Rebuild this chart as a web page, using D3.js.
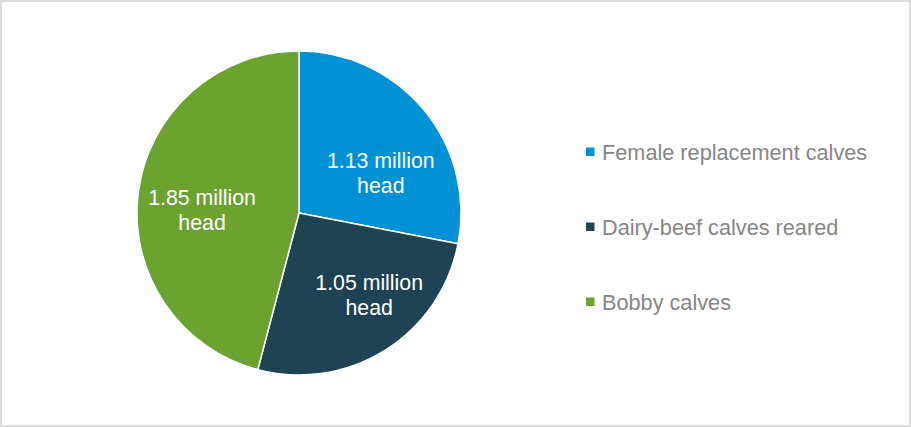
<!DOCTYPE html>
<html>
<head>
<meta charset="utf-8">
<script src="https://cdn.jsdelivr.net/npm/d3@7"></script>
<style>
  body { margin: 0; background: #fff; }
  svg { display: block; font-family: "Liberation Sans", Arial, sans-serif; }
  .legend-label { fill: #868686; font-size: 21.7px; }
  .slice-label { fill: #fff; font-size: 21.3px; }
</style>
</head>
<body>
<div id="pie-chart"><svg></svg></div>
<script>
const categories = ["Female replacement calves", "Dairy-beef calves reared", "Bobby calves"];
const values = [1.13, 1.05, 1.85];
const colours = ["#0090d4", "#1f4352", "#6ca22f"];

const chartSize = {width: 911, height: 427};
const centre = {x: 299, y: 213};
const radius = 162;
// label anchors (angle from 12 o'clock, distance from centre), Excel "best fit" look
const labelSpots = [[64, 91], [139.5, 108], [271.8, 97]];

const svg = d3.select("#pie-chart svg")
  .attr("width", chartSize.width)
  .attr("height", chartSize.height);

svg.append("rect")
  .attr("x", 1).attr("y", 1)
  .attr("width", chartSize.width - 2)
  .attr("height", chartSize.height - 2)
  .attr("fill", "#fff")
  .attr("stroke", "#dcdcdc")
  .attr("stroke-width", 2);

const pie = d3.pie().sort(null).value(d => d);
const arcs = pie(values);
const arc = d3.arc().innerRadius(0).outerRadius(radius);

const g = svg.append("g")
  .attr("transform", `translate(${centre.x},${centre.y})`);

g.selectAll("path")
  .data(arcs)
  .enter()
  .append("path")
  .attr("d", arc)
  .attr("fill", (d, i) => colours[i])
  .attr("stroke", "#fff")
  .attr("stroke-width", 1.5)
  .attr("stroke-linejoin", "round");

const labels = g.selectAll(".slice-label")
  .data(arcs)
  .enter()
  .append("text")
  .attr("class", "slice-label")
  .attr("text-anchor", "middle")
  .attr("transform", (d, i) => {
    const a = labelSpots[i][0] * Math.PI / 180;
    const r = labelSpots[i][1];
    return `translate(${r * Math.sin(a)},${-r * Math.cos(a)})`;
  });

labels.append("tspan")
  .attr("x", 0).attr("y", -5)
  .text(d => `${d3.format(".2f")(d.data)} million`);
labels.append("tspan")
  .attr("x", 0).attr("y", 20)
  .text("head");

const legend = svg.append("g")
  .attr("transform", "translate(586,152)");

const rows = legend.selectAll("g")
  .data(categories)
  .enter()
  .append("g")
  .attr("transform", (d, i) => `translate(0,${i * 75})`);

rows.append("rect")
  .attr("x", 0).attr("y", -4.5)
  .attr("width", 8.5).attr("height", 8.5)
  .attr("fill", (d, i) => colours[i]);

rows.append("text")
  .attr("class", "legend-label")
  .attr("x", 16)
  .attr("y", 8)
  .text(d => d);
</script>
</body>
</html>
